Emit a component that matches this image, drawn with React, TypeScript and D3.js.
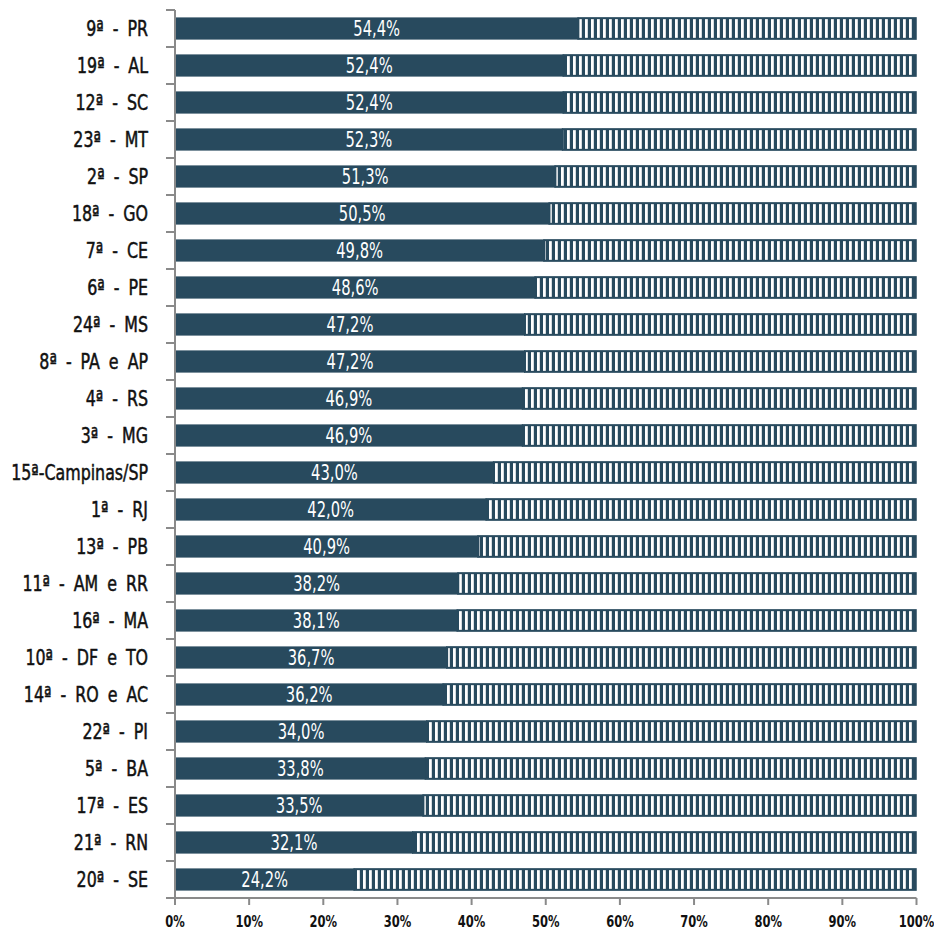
import React from "react";
import * as d3 from "d3";

const categories: string[] = [
  "9ª - PR", "19ª - AL", "12ª - SC", "23ª - MT", "2ª - SP", "18ª - GO",
  "7ª - CE", "6ª - PE", "24ª - MS", "8ª - PA e AP", "4ª - RS", "3ª - MG",
  "15ª-Campinas/SP", "1ª - RJ", "13ª - PB", "11ª - AM e RR", "16ª - MA",
  "10ª - DF e TO", "14ª - RO e AC", "22ª - PI", "5ª - BA", "17ª - ES",
  "21ª - RN", "20ª - SE",
];
const values: number[] = [
  54.4, 52.4, 52.4, 52.3, 51.3, 50.5, 49.8, 48.6, 47.2, 47.2, 46.9, 46.9,
  43.0, 42.0, 40.9, 38.2, 38.1, 36.7, 36.2, 34.0, 33.8, 33.5, 32.1, 24.2,
];
const xTicks: number[] = [0, 10, 20, 30, 40, 50, 60, 70, 80, 90, 100];

const W = 934;
const H = 932;
const left = 175;
const right = 916.5;
const top = 10;
const bottom = 898;
const dark = "#284a5e";
const axisGray = "#8a8a8a";
const font = "'DejaVu Sans Condensed', 'DejaVu Sans', sans-serif";

export default function App() {
  const x = d3.scaleLinear().domain([0, 100]).range([left, right]);
  const y = d3
    .scaleBand<string>()
    .domain(categories)
    .range([top, bottom])
    .paddingInner(0.4)
    .paddingOuter(0.2);
  const step = y.step();
  const bw = y.bandwidth();
  const fmt = (v: number) => v.toFixed(1).replace(".", ",") + "%";

  return (
    <svg width={W} height={H} style={{ position: "absolute", left: 0, top: 0 }}>
      <defs>
        <pattern id="vstripe" patternUnits="userSpaceOnUse" width={6} height={10} x={0} y={0}>
          <rect x={0} y={0} width={6} height={10} fill={dark} />
          <rect x={3} y={0} width={2.8} height={10} fill="#ffffff" />
        </pattern>
      </defs>
      <rect x={0} y={0} width={W} height={H} fill="#ffffff" />
      {categories.map((c, i) => {
        const v = values[i];
        const y0 = y(c)!;
        const cy = y0 + bw / 2;
        return (
          <g key={c}>
            <rect
              x={x(v)}
              y={y0 + 0.75}
              width={x(100) - x(v) - 0.75}
              height={bw - 1.5}
              fill="url(#vstripe)"
              stroke={dark}
              strokeWidth={2}
            />
            <rect x={x(0)} y={y0} width={x(v) - x(0)} height={bw} fill={dark} />
            <text
              transform={`translate(${(x(0) + x(v)) / 2},${cy}) scale(0.78,1)`}
              dy="0.36em"
              textAnchor="middle"
              fill="#ffffff"
              fontFamily={font}
              fontSize={21}
            >
              {fmt(v)}
            </text>
            <text
              transform={`translate(148,${cy}) scale(0.8,1)`}
              dy="0.36em"
              textAnchor="end"
              fill="#111111"
              stroke="#111111"
              strokeWidth={0.5}
              fontFamily={font}
              fontSize={22}
              style={{ wordSpacing: "5px" }}
            >
              {c}
            </text>
          </g>
        );
      })}
      {/* y axis */}
      <line x1={left} x2={left} y1={top} y2={bottom} stroke={axisGray} strokeWidth={2} />
      {d3.range(categories.length + 1).map((i) => (
        <line
          key={"yt" + i}
          x1={left - 9}
          x2={left}
          y1={top + i * step}
          y2={top + i * step}
          stroke={axisGray}
          strokeWidth={2}
        />
      ))}
      {/* x axis */}
      <line x1={left} x2={right} y1={bottom} y2={bottom} stroke={axisGray} strokeWidth={2} />
      {xTicks.map((t) => (
        <g key={"xt" + t}>
          <line x1={x(t)} x2={x(t)} y1={bottom} y2={bottom + 7} stroke={axisGray} strokeWidth={2} />
          <text
            transform={`translate(${x(t)},927) scale(0.8,1)`}
            textAnchor="middle"
            fill="#111111"
            fontFamily={font}
            fontSize={16}
            fontWeight="bold"
          >
            {t + "%"}
          </text>
        </g>
      ))}
    </svg>
  );
}
